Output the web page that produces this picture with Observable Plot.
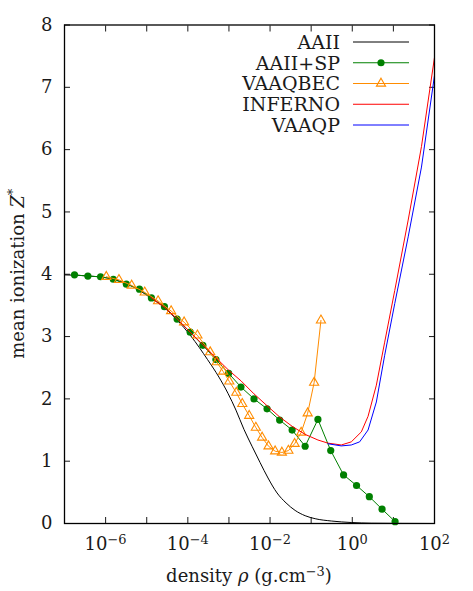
<!DOCTYPE html>
<html><head><meta charset="utf-8">
<script src="https://cdn.jsdelivr.net/npm/d3@7"></script>
<script src="https://cdn.jsdelivr.net/npm/@observablehq/plot@0.6"></script>
<style>body{margin:0;background:#fff} svg text{font-family:"DejaVu Serif" !important;}</style>
</head><body><div id="chart"></div>
<script>
// ---- data (density g/cm3, mean ionization Z*) ----
const aaiiRho = [1.0e-7,4.31e-7,1.32e-6,4.07e-6,1.25e-5,2.60e-5,5.61e-5,1.18e-4,3.02e-4,5.70e-4,9.46e-4,1.48e-3,2.32e-3,3.64e-3,5.70e-3,8.93e-3,1.48e-2,2.45e-2,4.07e-2,7.14e-2,0.125,0.308,0.946,2.90,100];
const aaiiZ   = [3.99,3.97,3.93,3.82,3.62,3.47,3.26,3.01,2.63,2.35,2.09,1.82,1.51,1.24,0.98,0.73,0.49,0.33,0.21,0.125,0.077,0.04,0.016,0.005,0.0];

const spRho = [1.75e-7,3.70e-7,7.55e-7,1.54e-6,3.20e-6,6.64e-6,1.30e-5,2.70e-5,5.48e-5,1.14e-4,2.32e-4,4.82e-4,9.84e-4,1.96e-3,4.07e-3,8.45e-3,1.71e-2,3.44e-2,7.14e-2,0.146,0.299,0.614,1.27,2.60,5.30,11.0];
const spZ   = [3.99,3.97,3.96,3.92,3.84,3.76,3.62,3.48,3.28,3.07,2.86,2.63,2.41,2.19,2.00,1.84,1.66,1.50,1.24,1.67,1.17,0.78,0.61,0.43,0.23,0.03];

const becRho = [1.04e-6,2.11e-6,4.31e-6,8.93e-6,1.89e-5,3.92e-5,8.13e-5,1.71e-4,3.50e-4,5.04e-4,7.23e-4,1.02e-3,1.51e-3,2.11e-3,3.11e-3,4.51e-3,6.41e-3,9.18e-3,1.33e-2,1.94e-2,2.79e-2,3.96e-2,5.70e-2,8.22e-2,0.118,0.173];
const becZ   = [3.96,3.91,3.82,3.71,3.57,3.41,3.23,3.02,2.75,2.59,2.44,2.28,2.10,1.92,1.73,1.54,1.38,1.24,1.16,1.14,1.17,1.28,1.46,1.77,2.26,3.26];

const infRho = [1.25e-5,2.70e-5,5.61e-5,1.14e-4,2.32e-4,4.82e-4,9.84e-4,1.96e-3,4.07e-3,8.45e-3,1.71e-2,3.44e-2,7.14e-2,0.146,0.255,0.540,0.946,1.66,2.42,3.85,6.14,10.8,22.9,48.2,100];
const infZ   = [3.63,3.47,3.28,3.07,2.87,2.66,2.46,2.29,2.08,1.89,1.71,1.56,1.43,1.34,1.29,1.26,1.31,1.47,1.72,2.22,2.91,3.74,4.87,6.05,7.48];

const vqpRho = [0.255,0.540,0.946,1.51,2.42,3.85,6.14,10.8,22.9,48.2,100];
const vqpZ   = [1.28,1.245,1.26,1.31,1.50,1.95,2.70,3.53,4.60,5.72,7.19];

const seriesNames  = ["AAII","AAII+SP","VAAQBEC","INFERNO","VAAQP"];
const seriesColors = ["#000000","#008000","#ff8c00","#ff0000","#0000ff"];

const xTicks = [1e-6,1e-5,1e-4,1e-3,1e-2,1e-1,1,1e1];
const xLabelTicks = [1e-6,1e-4,1e-2,1,1e2];
const yTicks = [0,1,2,3,4,5,6,7,8];

const rows = (rho, z) => rho.map((r, i) => ({rho: r, z: z[i]}));
const dAAII = rows(aaiiRho, aaiiZ), dSP = rows(spRho, spZ), dBEC = rows(becRho, becZ),
      dINF = rows(infRho, infZ), dVQP = rows(vqpRho, vqpZ);

const W = 473, H = 591, ML = 64, MR = 39, MT = 24.5, MB = 68;
const FONT = "DejaVu Serif";
const TXT = "#1a1a1a";
const DOT_R = 3.6, TRI_R = 3.4;

const plot = Plot.plot({
  width: W, height: H,
  marginLeft: ML, marginRight: MR, marginTop: MT, marginBottom: MB,
  style: {fontFamily: FONT, fontSize: "18px", color: TXT, background: "#fff"},
  x: {type: "log", domain: [1e-7, 1e2]},
  y: {domain: [0, 8]},
  marks: [
    Plot.axisX(xTicks, {anchor: "bottom", tickSize: -6, tickFormat: () => "", label: null}),
    Plot.axisX(xTicks, {anchor: "top", tickSize: -6, tickFormat: () => "", label: null}),
    Plot.axisX(xLabelTicks, {anchor: "bottom", tickSize: 0, tickPadding: 14,
      tickFormat: d => String(Math.round(Math.log10(d))).replace("-", "\u2212"), label: null}),
    Plot.axisY(yTicks, {anchor: "left", tickSize: -6, tickFormat: () => "", label: null}),
    Plot.axisY(yTicks, {anchor: "right", tickSize: -6, tickFormat: () => "", label: null}),
    Plot.axisY(yTicks, {anchor: "left", tickSize: 0, tickPadding: 12,
      tickFormat: d => String(d), label: null}),
    Plot.line(dAAII, {x: "rho", y: "z", stroke: seriesColors[0], strokeWidth: 1, curve: "monotone-x"}),
    Plot.line(dSP, {x: "rho", y: "z", stroke: seriesColors[1], strokeWidth: 1}),
    Plot.dot(dSP, {x: "rho", y: "z", r: DOT_R, fill: seriesColors[1], stroke: "none"}),
    Plot.line(dBEC, {x: "rho", y: "z", stroke: seriesColors[2], strokeWidth: 1}),
    Plot.dot(dBEC, {x: "rho", y: "z", r: TRI_R, symbol: "triangle", fill: "none", stroke: seriesColors[2], strokeWidth: 1.1}),
    Plot.line(dINF, {x: "rho", y: "z", stroke: seriesColors[3], strokeWidth: 1}),
    Plot.line(dVQP, {x: "rho", y: "z", stroke: seriesColors[4], strokeWidth: 1}),
    Plot.frame({stroke: "#000", strokeWidth: 1.3})
  ]
});

document.getElementById("chart").appendChild(plot);
const svg = d3.select(plot);

// superscript tick labels 10^n
svg.selectAll('g[aria-label="x-axis tick label"] text').each(function () {
  const t = d3.select(this);
  const e = t.text();
  if (!e) return;
  t.text(null);
  t.append("tspan").text("10");
  t.append("tspan").attr("dy", "-0.5em").attr("font-size", "0.72em").text(e);
});

// axis titles
const ylab = svg.append("text")
  .attr("transform", `translate(23.5,${(MT + H - MB) / 2}) rotate(-90)`)
  .attr("text-anchor", "middle").attr("fill", TXT)
  .attr("font-family", FONT).attr("font-size", 18);
ylab.append("tspan").text("mean ionization ");
ylab.append("tspan").attr("font-style", "italic").text("Z");
ylab.append("tspan").attr("dy", "-0.5em").attr("font-size", "0.72em").text("*");

const xlab = svg.append("text")
  .attr("x", (ML + W - MR) / 2).attr("y", 582)
  .attr("text-anchor", "middle").attr("fill", TXT)
  .attr("font-family", FONT).attr("font-size", 18);
xlab.append("tspan").text("density ");
xlab.append("tspan").attr("font-style", "italic").text("\u03c1");
xlab.append("tspan").text(" (g.cm");
xlab.append("tspan").attr("dy", "-0.5em").attr("font-size", "0.72em").text("\u22123");
xlab.append("tspan").attr("dy", "0.36em").text(")");

// legend (top right, inside frame)
const legX = 340, legY0 = 42, legDy = 20.75, lx1 = 353, lx2 = 409;
const lg = svg.append("g");
seriesNames.forEach((name, i) => {
  const y = legY0 + i * legDy;
  lg.append("text").attr("x", legX).attr("y", y).attr("dy", "0.36em")
    .attr("text-anchor", "end").attr("fill", TXT)
    .attr("font-family", FONT).attr("font-size", 19).text(name);
  lg.append("line").attr("x1", lx1).attr("x2", lx2).attr("y1", y).attr("y2", y)
    .attr("stroke", seriesColors[i]).attr("stroke-width", 1);
  const cx = (lx1 + lx2) / 2;
  if (name === "AAII+SP") {
    lg.append("circle").attr("cx", cx).attr("cy", y).attr("r", DOT_R).attr("fill", seriesColors[i]);
  } else if (name === "VAAQBEC") {
    lg.append("path").attr("transform", `translate(${cx},${y})`)
      .attr("d", d3.symbol(d3.symbolTriangle, Math.PI * TRI_R * TRI_R)())
      .attr("fill", "none").attr("stroke", seriesColors[i]).attr("stroke-width", 1.1);
  }
});
</script>
</body></html>
